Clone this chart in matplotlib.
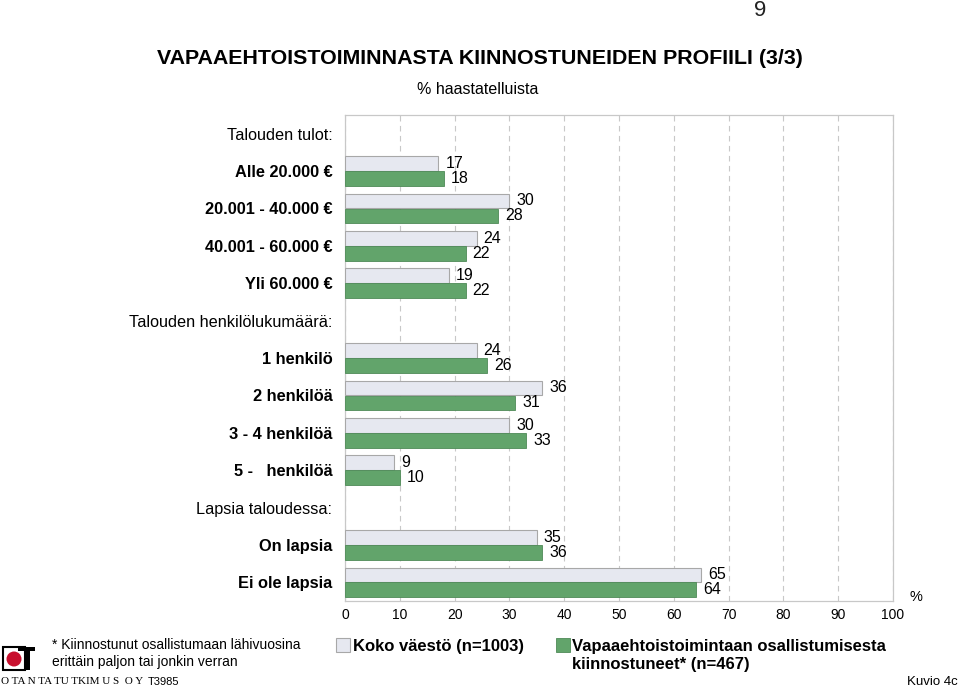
import matplotlib.pyplot as plt
from matplotlib.patches import Rectangle, Ellipse

# --- data
rows = ['Talouden tulot:', 'Alle 20.000 €', '20.001 - 40.000 €', '40.001 - 60.000 €', 'Yli 60.000 €',
        'Talouden henkilölukumäärä:', '1 henkilö', '2 henkilöä', '3 - 4 henkilöä', '5 -   henkilöä',
        'Lapsia taloudessa:', 'On lapsia', 'Ei ole lapsia']
headers = ['Talouden tulot:', 'Talouden henkilölukumäärä:', 'Lapsia taloudessa:']
koko = [None, 17, 30, 24, 19, None, 24, 36, 30, 9, None, 35, 65]
vapaa = [None, 18, 28, 22, 22, None, 26, 31, 33, 10, None, 36, 64]
xticks = list(range(0, 101, 10))

light = '#e6e8f0'
green = '#62a46b'
edge = '#a8a8a8'
plt.rcParams['font.family'] = ['Liberation Sans', 'DejaVu Sans']

fig = plt.figure(figsize=(9.6, 6.88), dpi=100)
W, H = 960, 688
ax = fig.add_axes([345 / W, 1 - 601 / H, 548 / W, 486 / H])

for i, (a, b) in enumerate(zip(koko, vapaa)):
    if a is None:
        continue
    ax.barh(i - 0.2, a, height=0.39, color=light, edgecolor=edge, linewidth=0.8, zorder=3)
    ax.barh(i + 0.2, b, height=0.39, color=green, edgecolor='#4e8a57', linewidth=0.6, zorder=3)
    ax.text(a + 1.3, i - 0.2, str(a), va='center', ha='left', fontsize=11.5, zorder=4)
    ax.text(b + 1.3, i + 0.2, str(b), va='center', ha='left', fontsize=11.5, zorder=4)

ax.set_xlim(0, 100)
ax.set_ylim(len(rows) - 0.5, -0.5)
ax.set_xticks(xticks)
ax.set_xticklabels([str(t) for t in xticks], fontsize=10)
ax.tick_params(axis='x', length=0, pad=5)
ax.set_yticks(range(len(rows)))
ax.set_yticklabels(rows)
ax.tick_params(axis='y', length=0, pad=9)
for lab in ax.get_yticklabels():
    if lab.get_text() in headers:
        lab.set_fontsize(11.7)
    else:
        lab.set_fontsize(11.8)
        lab.set_fontweight('bold')
ax.xaxis.grid(True, linestyle=(0, (5, 4)), color='#c8c8c8', linewidth=0.8, zorder=0)
for s in ax.spines.values():
    s.set_color('#c8c8c8')
    s.set_linewidth(0.9)

# --- texts
fig.text(480 / W, 1 - 58 / H, 'VAPAAEHTOISTOIMINNASTA KIINNOSTUNEIDEN PROFIILI (3/3)',
         fontweight='bold', fontsize=15.4, ha='center', va='center')
fig.text(478 / W, 1 - 90 / H, '% haastatelluista', fontsize=11.5, ha='center', va='center')
fig.text(760 / W, 1 - 10 / H, '9', fontsize=16, ha='center', va='center', color='#222222')
fig.text(916 / W, 1 - 597 / H, '%', fontsize=10.5, ha='center', va='center')

# legend
fig.patches.append(Rectangle((336 / W, 1 - 652 / H), 14 / W, 14 / H, transform=fig.transFigure,
                             facecolor=light, edgecolor=edge, linewidth=0.8))
fig.text(353 / W, 1 - 646 / H, 'Koko väestö (n=1003)', fontsize=12, fontweight='bold', va='center')
fig.patches.append(Rectangle((556 / W, 1 - 652 / H), 14 / W, 14 / H, transform=fig.transFigure,
                             facecolor=green, edgecolor='#4e8a57', linewidth=0.6))
fig.text(572 / W, 1 - 646 / H, 'Vapaaehtoistoimintaan osallistumisesta', fontsize=12,
         fontweight='bold', va='center')
fig.text(572 / W, 1 - 665 / H, 'kiinnostuneet* (n=467)', fontsize=12, fontweight='bold', va='center')

# footnote
fig.text(52 / W, 1 - 645 / H, '* Kiinnostunut osallistumaan lähivuosina', fontsize=10, va='center')
fig.text(52 / W, 1 - 662 / H, 'erittäin paljon tai jonkin verran', fontsize=10, va='center')
fig.text(1 / W, 1 - 682 / H, 'O TA N TA TU TKIM U S  O Y', fontsize=8, va='center',
         family=['Liberation Serif', 'DejaVu Serif'])
fig.text(148 / W, 1 - 682 / H, 'T3985', fontsize=8, va='center')
fig.text(958 / W, 1 - 682 / H, 'Kuvio 4c', fontsize=9.5, va='center', ha='right')

# logo
fig.patches.append(Rectangle((3 / W, 1 - 670 / H), 22 / W, 23 / H, transform=fig.transFigure,
                             facecolor='white', edgecolor='black', linewidth=1.5))
fig.patches.append(Rectangle((18 / W, 1 - 651 / H), 17 / W, 4 / H, transform=fig.transFigure,
                             facecolor='black', edgecolor='none'))
fig.patches.append(Rectangle((24 / W, 1 - 670 / H), 6 / W, 23 / H, transform=fig.transFigure,
                             facecolor='black', edgecolor='none'))
fig.patches.append(Ellipse((14 / W, 1 - 659 / H), 15 / W, 15 / H, transform=fig.transFigure,
                           facecolor='#c8102e', edgecolor='none'))

fig.savefig('out.png', dpi=100)
